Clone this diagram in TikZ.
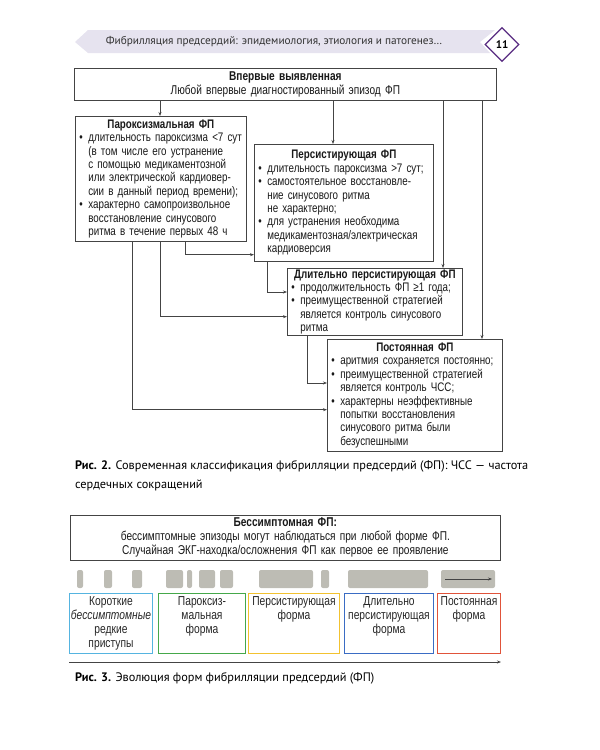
\documentclass[tikz,border=0pt]{standalone}
\usepackage{fontspec}
\setmainfont{Liberation Sans}
\newfontfamily\boxfont[FakeStretch=0.79]{Liberation Sans}
\newfontfamily\capfont{PT Sans}
\usetikzlibrary{arrows.meta,positioning,shapes.geometric}
\definecolor{linegray}{HTML}{444444}
\definecolor{bannerfill}{HTML}{E6E3EF}
\definecolor{pagepurple}{HTML}{5A2D82}
\definecolor{blobgray}{HTML}{BDBCB4}
\definecolor{formcyan}{HTML}{55B4E0}
\definecolor{formgreen}{HTML}{45A84A}
\definecolor{formyellow}{HTML}{F2C230}
\definecolor{formblue}{HTML}{3A6CC4}
\definecolor{formred}{HTML}{E0533A}
\newcommand{\ttl}[1]{\makebox[\hsize][c]{\bfseries #1}}
\newcommand{\bl}{\makebox[9pt][l]{•}}
\newcommand{\ind}{\hspace*{9pt}}
\tikzset{
  fpbox/.style={draw=linegray, line width=0.7pt, fill=white, anchor=north west,
    inner xsep=4pt, inner ysep=1pt, align=left, text=black!90,
    font=\boxfont\fontsize{12.4}{13.4}\selectfont},
  link/.style={draw=linegray, line width=0.6pt, -{Stealth[length=4pt,width=3pt]}},
  form/.style={draw=#1, line width=1pt, anchor=north west, inner sep=0pt,
    text=black!85, font=\boxfont\fontsize{13}{14}\selectfont},
  blob/.style={fill=blobgray, rounded corners=2pt},
  capt/.style={anchor=north west, inner sep=0pt, align=left,
    font=\capfont\fontsize{12.3}{19.5}\selectfont},
}
\begin{document}
\begin{tikzpicture}[x=1pt,y=-1pt]
  \useasboundingbox (0,0) rectangle (600,750);
  % header
  \fill[bannerfill] (75,42) -- (88,30) -- (495,30) -- (480,42) -- (490,53) -- (88,53) -- cycle;
  \node[font=\capfont\fontsize{11.3}{13}\selectfont, text=black!80] (head) at (274,42)
    {Фибрилляция предсердий: эпидемиология, этиология и патогенез…};
  \node[diamond, aspect=1, draw=pagepurple, line width=1.2pt, fill=white,
    minimum width=34pt, minimum height=34pt, inner sep=0pt,
    font=\capfont\bfseries\fontsize{11}{13}\selectfont] (page) at (502,44.5) {11};

  % figure 2
  \node[fpbox, align=center, text width=414pt, minimum height=32pt,
    font=\boxfont\fontsize{12.8}{13.4}\selectfont] (first) at (74,68)
    {\textbf{Впервые выявленная}\\Любой впервые диагностированный эпизод ФП};
  \node[fpbox, text width=163pt, minimum height=125pt] (parox) at (75,116)
    {\ttl{Пароксизмальная ФП}\\
     \bl длительность пароксизма <7 сут\\
     \ind(в том числе его устранение\\
     \ind с помощью медикаментозной\\
     \ind или электрической кардиовер-\\
     \ind сии в данный период времени);\\
     \bl характерно самопроизвольное\\
     \ind восстановление синусового\\
     \ind ритма в течение первых 48 ч};
  \node[fpbox, text width=171pt, minimum height=117pt] (pers) at (254,144)
    {\ttl{Персистирующая ФП}\\
     \bl длительность пароксизма >7 сут;\\
     \bl самостоятельное восстановле-\\
     \ind ние синусового ритма\\
     \ind не характерно;\\
     \bl для устранения необходима\\
     \ind медикаментозная/электрическая\\
     \ind кардиоверсия};
  \node[fpbox, text width=167pt, minimum height=67pt] (longpers) at (287,268)
    {\ttl{Длительно персистирующая ФП}\\
     \bl продолжительность ФП ≥1 года;\\
     \bl преимущественной стратегией\\
     \ind является контроль синусового\\
     \ind ритма};
  \node[fpbox, text width=167pt, minimum height=112pt] (perm) at (327,339)
    {\ttl{Постоянная ФП}\\
     \bl аритмия сохраняется постоянно;\\
     \bl преимущественной стратегией\\
     \ind является контроль ЧСС;\\
     \bl характерны неэффективные\\
     \ind попытки восстановления\\
     \ind синусового ритма были\\
     \ind безуспешными};

  \coordinate (d1) at ([xshift=86pt]first.south west);
  \coordinate (d2) at ([xshift=259pt]first.south west);
  \coordinate (d3) at ([xshift=369pt]first.south west);
  \coordinate (d4) at ([xshift=408pt]first.south west);
  \draw[link] (d1) -- (d1 |- parox.north);
  \draw[link] (d2) -- (d2 |- pers.north);
  \draw[link] (d3) -- (d3 |- longpers.north);
  \draw[link] (d4) -- (d4 |- perm.north);
  \draw[link] ([xshift=110pt]parox.south west) |- ([yshift=7pt]pers.south west);
  \draw[link] ([xshift=85pt]parox.south west) |- ([yshift=19pt]longpers.south west);
  \draw[link] ([xshift=57pt]parox.south west) |- ([yshift=42pt]perm.south west);
  \draw[link] ([xshift=13pt]pers.south west) |- ([yshift=-24pt]longpers.north west);
  \draw[link] ([xshift=20pt]longpers.south west) |- ([yshift=-44pt]perm.north west);

  \node[capt] (cap2) at (75,460)
    {\textbf{Рис. 2.} Современная классификация фибрилляции предсердий (ФП): ЧСС — частота\\
     сердечных сокращений};

  % figure 3
  \node[fpbox, align=center, text width=422pt, minimum height=45pt,
    font=\boxfont\fontsize{12.8}{14}\selectfont] (asym) at (70,515)
    {\textbf{Бессимптомная ФП:}\\
     бессимптомные эпизоды могут наблюдаться при любой форме ФП.\\
     Случайная ЭКГ-находка/осложнения ФП как первое ее проявление};

  \foreach \a/\b in {77/83,104/112,132/142,166/183,187/192,199/215,220/233,
                     259/313,321/329,348/428,441/495}{
    \fill[blob] (\a,570) rectangle (\b,588);
  }
  \draw[linegray, line width=0.7pt, -{Stealth[length=4pt,width=3pt]}] (445,579) -- (492,579);

  \node[form=formcyan] (short) at (69,593)
    {\parbox[c][60pt][t]{83pt}{\centering\vspace*{3pt}Короткие\\ \textit{бессимптомные}\\ редкие\\ приступы}};
  \node[form=formgreen] (paroxf) at (158,593)
    {\parbox[c][60pt][t]{87pt}{\centering\vspace*{3pt}Пароксиз-\\ мальная\\ форма}};
  \node[form=formyellow] (persf) at (248,593)
    {\parbox[c][60pt][t]{91pt}{\centering\vspace*{3pt}Персистирующая\\ форма}};
  \node[form=formblue] (longf) at (344,593)
    {\parbox[c][60pt][t]{89pt}{\centering\vspace*{3pt}Длительно\\ персистирующая\\ форма}};
  \node[form=formred] (permf) at (437,593)
    {\parbox[c][60pt][t]{63pt}{\centering\vspace*{3pt}Постоянная\\ форма}};

  \coordinate (tl) at ([yshift=-8pt]short.south west);
  \coordinate (tr) at ([yshift=-8pt]permf.south east);
  \draw[link] (tl) -- (tr);

  \node[capt] (cap3) at (75,672)
    {\textbf{Рис. 3.} Эволюция форм фибрилляции предсердий (ФП)};
\end{tikzpicture}
\end{document}
